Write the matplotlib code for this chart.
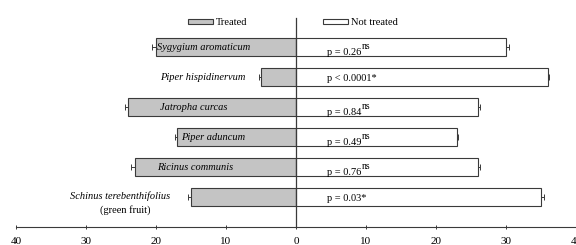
import matplotlib
matplotlib.use("Agg")
import matplotlib.pyplot as plt
from matplotlib.ticker import FuncFormatter, FixedLocator

species = ["Sygygium aromaticum", "Piper hispidinervum", "Jatropha curcas",
           "Piper aduncum", "Ricinus communis", "Schinus terebenthifolius"]
treated = [20, 5, 24, 17, 23, 15]
treated_err = [0.6, 0.3, 0.5, 0.3, 0.6, 0.5]
not_treated = [30, 36, 26, 23, 26, 35]
not_treated_err = [0.4, 0.2, 0.3, 0.2, 0.3, 0.4]
p_labels = ["p = 0.26", "p < 0.0001*", "p = 0.84", "p = 0.49", "p = 0.76", "p = 0.03*"]
p_sup = ["ns", "", "ns", "ns", "ns", ""]
xticks = [-40, -30, -20, -10, 0, 10, 20, 30, 40]

plt.rcParams['font.family'] = ['Liberation Serif', 'DejaVu Serif']

fig = plt.figure(figsize=(5.76, 2.45), dpi=100)
ax = fig.add_axes([16/576, 18/245, 560/576, 209/245])

ypos = list(range(len(species)))
ecol = '#3a3a3a'
ax.barh(ypos, [-v for v in treated], height=0.6, color='#c4c4c4', edgecolor=ecol,
        linewidth=0.8, label='Treated')
ax.barh(ypos, not_treated, height=0.6, color='white', edgecolor=ecol,
        linewidth=0.8, label='Not treated')
ax.errorbar([-v for v in treated], ypos, xerr=[treated_err, [0]*len(ypos)], fmt='none',
            ecolor=ecol, elinewidth=0.7, capsize=2, capthick=0.7)
ax.errorbar(not_treated, ypos, xerr=[[0]*len(ypos), not_treated_err], fmt='none',
            ecolor=ecol, elinewidth=0.7, capsize=2, capthick=0.7)

label_x = [-19.8, -19.4, -19.4, -16.4, -19.8, -25.2]
for i, (name, lx) in enumerate(zip(species, label_x)):
    if i == len(species) - 1:
        ax.text(lx, i - 0.02, name, ha='center', va='center', style='italic', fontsize=7.5)
        ax.text(lx + 0.8, i + 0.42, "(green fruit)", ha='center', va='center', fontsize=7.5)
    else:
        ax.text(lx, i + 0.02, name, ha='left', va='center', style='italic', fontsize=7.5)

for i, (pl, sup) in enumerate(zip(p_labels, p_sup)):
    dy = 0.17 if sup else 0.05
    t = ax.text(4.4, i + dy, pl, ha='left', va='center', fontsize=7.5)
    if sup:
        ax.annotate(sup, xy=(1.0, 0.6), xycoords=t, xytext=(0.3, 0),
                    textcoords='offset points', ha='left', va='bottom', fontsize=7)

ax.set_xlim(-40, 40)
ax.set_ylim(6.0, -0.97)
ax.xaxis.set_major_locator(FixedLocator(xticks))
ax.xaxis.set_major_formatter(FuncFormatter(lambda v, p: f"{abs(int(v))}"))
ax.tick_params(axis='x', direction='inout', length=3, width=0.7, labelsize=8, pad=6,
               color=ecol)
ax.set_yticks([])
for s in ['top', 'right']:
    ax.spines[s].set_visible(False)
ax.spines['left'].set_position(('data', 0))
ax.spines['left'].set_color(ecol)
ax.spines['left'].set_linewidth(0.9)
ax.spines['bottom'].set_color(ecol)
ax.spines['bottom'].set_linewidth(0.8)

ax.legend(loc='upper left', bbox_to_anchor=(168/560, 1.02), ncol=2, frameon=False,
          fontsize=7.5, handlelength=2.4, handleheight=0.4, handletextpad=0.3,
          columnspacing=7.2, borderaxespad=0)

fig.savefig("out.png", dpi=100)
